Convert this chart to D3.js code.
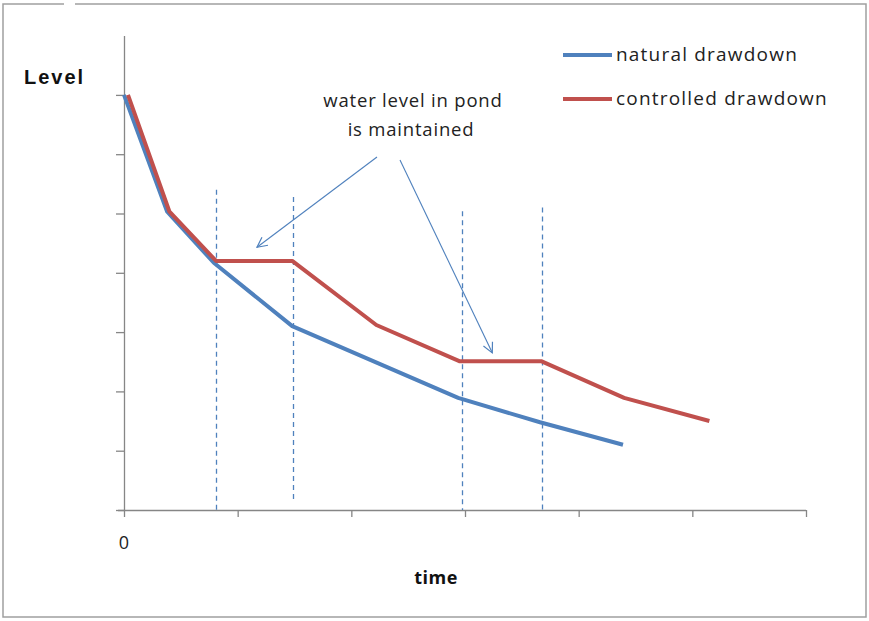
<!DOCTYPE html>
<html><head><meta charset="utf-8">
<script src="https://cdn.jsdelivr.net/npm/d3@7"></script>
<style>body{margin:0;background:#fff}svg{display:block}</style>
</head><body>
<script>
const xTicks = [0,1,2,3,4,5,6];
const yTicks = [0,1,2,3,4,5,6,7];
const naturalX = [0, 0.38, 0.79, 1.48, 2.94, 3.66, 4.39];
const naturalY = [7, 5.03, 4.17, 3.10, 1.89, 1.48, 1.10];
const controlledX = [0.035, 0.40, 0.81, 1.48, 2.22, 2.95, 3.67, 4.40, 5.15];
const controlledY = [7, 5.03, 4.20, 4.20, 3.12, 2.51, 2.51, 1.89, 1.50];
const markerX = [0.81, 1.485, 2.97, 3.68];
const markerTop = [5.4, 5.28, 5.04, 5.1];
const markerBottom = [0, 0.12, 0, 0];
const seriesNames = ["natural drawdown", "controlled drawdown"];
const colors = ["#4f81bd", "#c0504d"];

const W = 869, H = 621;
const svg = d3.select("body").append("svg").attr("width", W).attr("height", H);
const x = d3.scaleLinear().domain([0, 6]).range([124, 806]);
const y = d3.scaleLinear().domain([0, 8]).range([510, 35.6]);

// frame
svg.append("path").attr("d","M64,4 H3 V617 H866 V4 H75").attr("fill","none").attr("stroke","#a0a0a0").attr("stroke-width",1.5);

// axes
const gx = svg.append("g").attr("transform","translate(0,510)")
  .call(d3.axisBottom(x).tickValues(xTicks).tickSize(7).tickFormat(""));
gx.select(".domain").attr("d","M118,0.5H806");
const gy = svg.append("g").attr("transform","translate(124,0)")
  .call(d3.axisLeft(y).tickValues(yTicks).tickSize(8).tickFormat(""));
gy.select(".domain").attr("d","M0.5,36V510");
svg.selectAll(".domain, .tick line").attr("stroke","#868686").attr("stroke-width",1.3);

// dashed markers
markerX.forEach((v,i)=>{
  const px = Math.round(x(v)) + 0.5;
  svg.append("line").attr("x1",px).attr("x2",px).attr("y1",y(markerTop[i])).attr("y2",y(markerBottom[i]))
    .attr("stroke","#4f81bd").attr("stroke-width",1.3).attr("stroke-dasharray","5,4");
});

const line = d3.line().x(d=>x(d[0])).y(d=>y(d[1]));
const nat = naturalX.map((v,i)=>[v,naturalY[i]]);
const con = controlledX.map((v,i)=>[v,controlledY[i]]);
svg.append("path").attr("d",line(nat)).attr("fill","none").attr("stroke",colors[0]).attr("stroke-width",4).attr("stroke-linejoin","round");
svg.append("path").attr("d",line(con)).attr("fill","none").attr("stroke",colors[1]).attr("stroke-width",4).attr("stroke-linejoin","round");

// arrows
svg.append("defs").append("marker").attr("id","arr").attr("viewBox","0 0 12 12").attr("refX",11).attr("refY",6)
  .attr("markerWidth",12).attr("markerHeight",12).attr("markerUnits","userSpaceOnUse").attr("orient","auto")
  .append("path").attr("d","M1,1 L11,6 L1,11").attr("fill","none").attr("stroke","#4f81bd").attr("stroke-width",1.2);
svg.append("line").attr("x1",377).attr("y1",157).attr("x2",x(1.17)).attr("y2",y(4.43))
  .attr("stroke","#4f81bd").attr("stroke-width",1.1).attr("marker-end","url(#arr)");
svg.append("line").attr("x1",400).attr("y1",160).attr("x2",x(3.24)).attr("y2",y(2.65))
  .attr("stroke","#4f81bd").attr("stroke-width",1.1).attr("marker-end","url(#arr)");

// annotation
const font = "'Open Sans', sans-serif";
svg.append("text").attr("x",413).attr("y",107).attr("text-anchor","middle").attr("font-family",font).attr("font-size",18.5).attr("letter-spacing",0.8).attr("fill","#222").text("water level in pond");
svg.append("text").attr("x",411).attr("y",136).attr("text-anchor","middle").attr("font-family",font).attr("font-size",18.5).attr("letter-spacing",0.8).attr("fill","#222").text("is maintained");

// legend
seriesNames.forEach((n,i)=>{
  const ly = 55 + i*44;
  svg.append("line").attr("x1",563).attr("x2",612).attr("y1",ly).attr("y2",ly).attr("stroke",colors[i]).attr("stroke-width",4);
  svg.append("text").attr("x",616).attr("y",ly+6).attr("font-family",font).attr("font-size",19).attr("letter-spacing",1.2).attr("fill","#222").text(n);
});

// labels
svg.append("text").attr("x",24).attr("y",84).attr("font-family","'Liberation Sans', Arial, sans-serif").attr("font-weight","bold").attr("font-size",20).attr("letter-spacing",2).attr("fill","#111").text("Level");
svg.append("text").attr("x",124).attr("y",549).attr("text-anchor","middle").attr("font-family",font).attr("font-size",18).attr("fill","#222").text("0");
svg.append("text").attr("x",436).attr("y",584).attr("text-anchor","middle").attr("font-family",font).attr("font-weight","bold").attr("font-size",18).attr("letter-spacing",0.5).attr("fill","#111").text("time");
</script>
</body></html>
